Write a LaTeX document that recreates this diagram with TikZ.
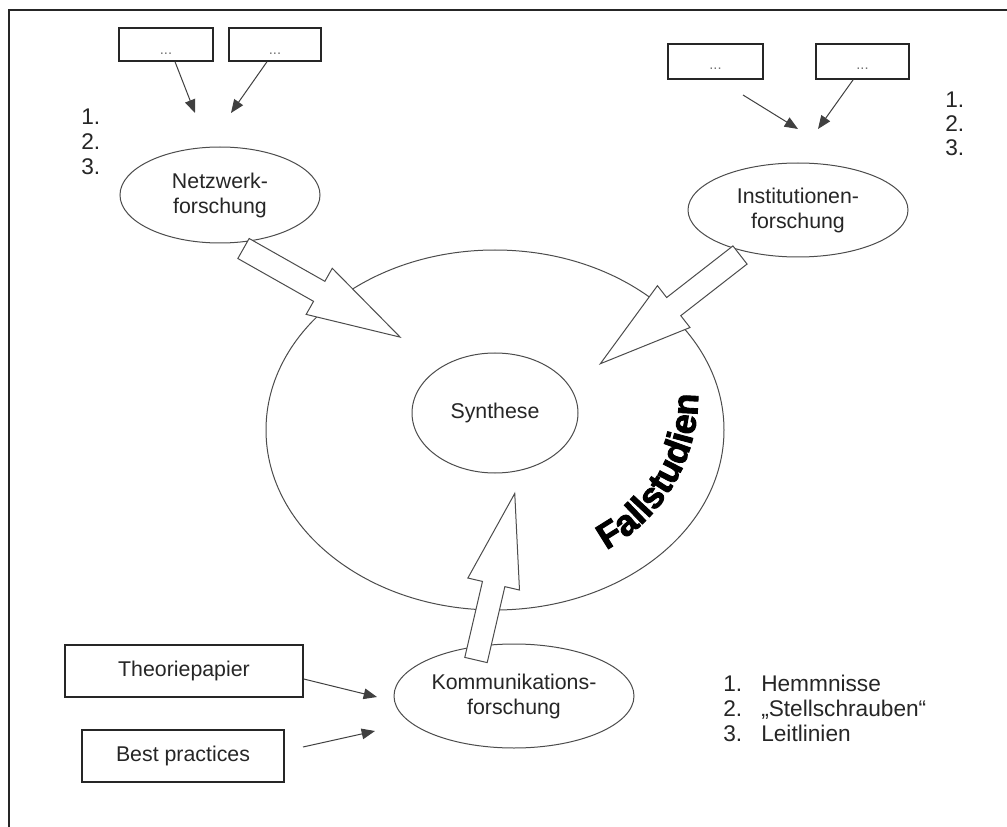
\documentclass[tikz,border=0pt]{standalone}
\usepackage{fontspec}
\setmainfont{Liberation Sans}
\newfontfamily\heavyfont[FakeBold=2.5]{Liberation Sans Bold}
\usetikzlibrary{shapes.geometric,arrows.meta,decorations.text,calc}

\newcommand\mainsize{\fontsize{16}{18.75}\selectfont}
\newcommand\listsize{\fontsize{17}{18.75}\selectfont}
\newcommand\dotsize{\fontsize{11}{12}\selectfont}
\newcommand\fallsize{\fontsize{27}{30}\selectfont}

\tikzset{
  frame/.style={draw=black!85, line width=1.4pt},
  oval/.style={ellipse, draw=black!70, line width=0.75pt, inner sep=0pt,
    align=center, text=black!85, font=\mainsize},
  itembox/.style={rectangle, draw=black!85, line width=1.1pt, inner sep=0pt,
    text=black!85, font=\mainsize},
  dotmark/.style={inner sep=0pt, text=black!55, font=\dotsize, anchor=base},
  pointer/.style={draw=black!75, line width=0.75pt,
    -{Triangle[length=10pt,width=8pt]}},
  blockarrow/.style={draw=black!70, line width=0.75pt, fill=white,
    line join=miter},
  lbl/.style={inner sep=0pt, text=black!85, font=\listsize, anchor=base west},
}

% hollow block arrow: tail point, direction (degrees), length
\newcommand\drawfatarrow[3]{%
  \begin{scope}[shift={#1}, rotate=#2]
    \draw[blockarrow] (0,-11.5) -- ({#3-93},-11.5) -- ({#3-93},-26.5)
      -- (#3,0) -- ({#3-93},26.5) -- ({#3-93},11.5) -- (0,11.5) -- cycle;
  \end{scope}}

\begin{document}
\begin{tikzpicture}[x=0.75pt, y=-0.75pt]
\useasboundingbox (0,0) rectangle (1007,827);
\fill[white] (0,0) rectangle (1007,827);

% outer frame
\draw[frame] (9,827) -- (9,10) -- (1007,10);

% ellipses
\node[oval, minimum width=343.5pt, minimum height=270pt] (fall) at (495,430) {};
\node[oval, minimum width=124.5pt, minimum height=90pt] (syn) at (495,413) {Synthese};
\node[oval, minimum width=150pt, minimum height=72pt] (netz) at (220,195)
  {Netzwerk-\\forschung};
\node[oval, minimum width=165pt, minimum height=70.5pt] (inst) at (798,210)
  {Institutionen-\\forschung};
\node[oval, minimum width=180pt, minimum height=78pt] (komm) at (514,696)
  {Kommunikations-\\forschung};

% block arrows into the case studies
\coordinate (netzTail) at (243.5,248.5);
\coordinate (instTail) at (740,255);
\coordinate (kommTail) at (476,660);
\drawfatarrow{(netzTail)}{-29.5}{180}
\drawfatarrow{(instTail)}{-142.1}{177}
\drawfatarrow{(kommTail)}{76.9}{171}

% curved heading
\coordinate (fc) at (523,396);
\path[decorate, decoration={text along path, text align=center,
  text={|\fallsize\heavyfont|Fallstudien}}]
  ([shift={(71:175)}]fc) arc[start angle=71, end angle=-10, radius=175];

% small boxes, top left
\node[itembox, minimum width=70.5pt, minimum height=24.75pt] (b1) at (166,44.5) {};
\node[itembox, minimum width=69pt, minimum height=24.75pt] (b2) at (275,44.5) {};
\node[dotmark] (d1) at (166,55) {...};
\node[dotmark] (d2) at (275,55) {...};
\coordinate (e1) at (195,113);
\coordinate (e2) at (231,113);
\draw[pointer] ([xshift=6.75pt]b1.south) -- (e1);
\draw[pointer] ([xshift=-6pt]b2.south) -- (e2);

% small boxes, top right
\node[itembox, minimum width=71.25pt, minimum height=26.25pt] (b3) at (715.5,61.5) {};
\node[itembox, minimum width=69.75pt, minimum height=26.25pt] (b4) at (862.5,61.5) {};
\node[dotmark] (d3) at (715.5,70) {...};
\node[dotmark] (d4) at (862.5,70) {...};
\coordinate (s3) at (743,95);
\coordinate (e3) at (798,129);
\coordinate (e4) at (818,129);
\draw[pointer] (s3) -- (e3);
\draw[pointer] ([xshift=-7pt]b4.south) -- (e4);

% numbered placeholders
\node[lbl] (nl1) at (81,125) {1.};
\node[lbl] (nl2) at (81,150) {2.};
\node[lbl] (nl3) at (81,175) {3.};
\node[lbl] (nr1) at (945,108) {1.};
\node[lbl] (nr2) at (945,132) {2.};
\node[lbl] (nr3) at (945,156) {3.};

% inputs, bottom left
\node[itembox, minimum width=178.5pt, minimum height=39pt] (theo) at (184,671) {Theoriepapier};
\node[itembox, minimum width=151.5pt, minimum height=39pt] (best) at (183,756) {Best practices};
\coordinate (et) at (377,697);
\coordinate (sb) at (303,747);
\coordinate (eb) at (375,731);
\draw[pointer] ([yshift=-6pt]theo.east) -- (et);
\draw[pointer] (sb) -- (eb);

% results list
\node[lbl] (r1n) at (723,691) {1.};
\node[lbl] (r1t) at (761,691) {Hemmnisse};
\node[lbl] (r2n) at (723,716) {2.};
\node[lbl] (r2t) at (761,716) {„Stellschrauben“};
\node[lbl] (r3n) at (723,741) {3.};
\node[lbl] (r3t) at (761,741) {Leitlinien};
\end{tikzpicture}
\end{document}
